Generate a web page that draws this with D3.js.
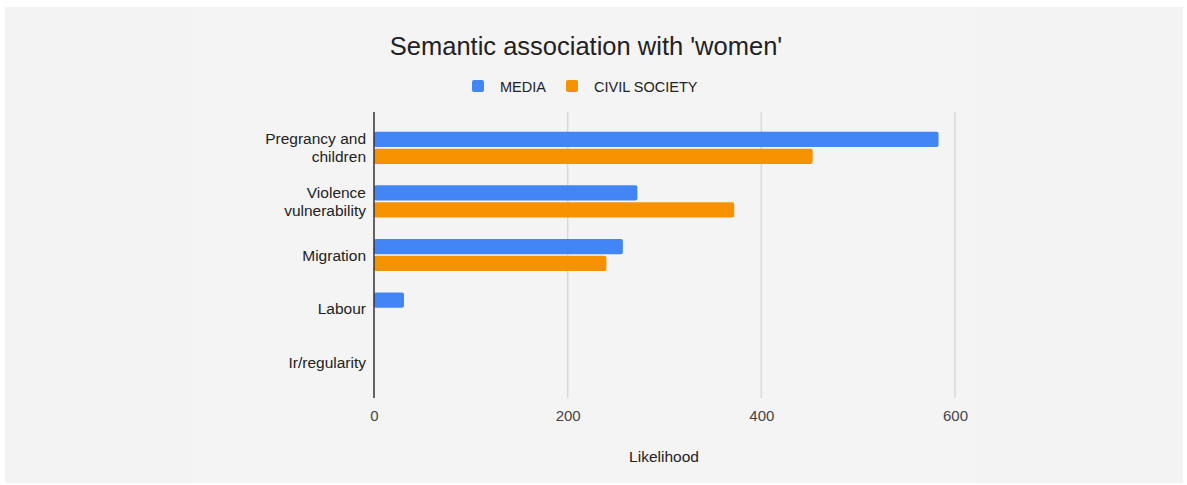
<!DOCTYPE html>
<html><head><meta charset="utf-8">
<script src="https://cdn.jsdelivr.net/npm/d3@7"></script>
<style>html,body{margin:0;padding:0;background:#fff;}svg{display:block;font-family:"Liberation Sans",Arial,sans-serif;}</style>
</head><body>
<svg id="c" width="1187" height="485"></svg>
<script>
const categories = ["Pregrancy and\nchildren", "Violence\nvulnerability", "Migration", "Labour", "Ir/regularity"];
const seriesNames = ["MEDIA", "CIVIL SOCIETY"];
const mediaValues = [583, 272, 257, 31, 0];
const civilValues = [453, 372, 240, 0, 0];
const xTicks = [0, 200, 400, 600];
const colors = ["#4285f4", "#f69200"];

const svg = d3.select("#c");
svg.append("rect").attr("x",5).attr("y",7).attr("width",1178).attr("height",476).attr("fill","#f3f3f3");
svg.append("rect").attr("x",193).attr("y",7).attr("width",784).attr("height",476).attr("fill","#f4f4f4");

const x = d3.scaleLinear().domain([0,600]).range([374,955]);
const y = d3.scaleBand().domain(categories).range([121,389]).paddingInner(0.4).paddingOuter(0.2);
const sub = d3.scaleBand().domain(seriesNames).range([0,y.bandwidth()]).paddingInner(0.1);

// gridlines
svg.append("g").selectAll("line").data(xTicks.filter(d=>d>0)).join("line")
  .attr("x1",d=>x(d)).attr("x2",d=>x(d)).attr("y1",112).attr("y2",398)
  .attr("stroke","#d9d9d9").attr("stroke-width",1.5);

const rows = categories.map((c,i)=>({cat:c, vals:[mediaValues[i], civilValues[i]]}));
const g = svg.append("g");
rows.forEach(r=>{
  r.vals.forEach((v,j)=>{
    if(v<=0) return;
    g.append("rect").attr("x",x(0)).attr("y",y(r.cat)+sub(seriesNames[j]))
      .attr("width",x(v)-x(0)).attr("height",sub.bandwidth()).attr("rx",2)
      .attr("fill",colors[j]);
  });
});

// zero line
svg.append("line").attr("x1",x(0)).attr("x2",x(0)).attr("y1",112).attr("y2",398).attr("stroke","#333").attr("stroke-width",1.5);

// x axis labels
const xAxis = d3.axisBottom(x).tickValues(xTicks).tickSize(0).tickPadding(0);
const xg = svg.append("g").attr("transform","translate(0,410)").call(xAxis);
xg.select(".domain").remove();
xg.selectAll("text").attr("fill","#444").style("font-size","15px").attr("font-family","Liberation Sans, Arial, sans-serif");

// y labels
const yAxis = d3.axisLeft(y).tickSize(0).tickFormat("");
const yg = svg.append("g").attr("transform",`translate(${x(0)},0)`).call(yAxis);
yg.select(".domain").remove();
categories.forEach(c=>{
  const lines = c.split("\n");
  const cy = y(c)+y.bandwidth()/2;
  const t = svg.append("text").attr("text-anchor","end").attr("fill","#222").style("font-size","15.5px");
  lines.forEach((ln,k)=>{
    t.append("tspan").attr("x",366).attr("y",cy + (k-(lines.length-1)/2)*18 + 5.5).text(ln);
  });
});

// axis title
svg.append("text").attr("x",664).attr("y",462).attr("text-anchor","middle").attr("fill","#222").style("font-size","15.5px").text("Likelihood");

// title
svg.append("text").attr("x",586).attr("y",55).attr("text-anchor","middle").attr("fill","#222").style("font-size","25.5px").text("Semantic association with 'women'");

// legend
const legX = [472, 566];
seriesNames.forEach((s,i)=>{
  svg.append("rect").attr("x",legX[i]).attr("y",80).attr("width",12).attr("height",12).attr("rx",2).attr("fill",colors[i]);
  svg.append("text").attr("x",legX[i]+28).attr("y",92).attr("fill","#222").style("font-size","14.5px").text(s);
});
</script>
</body></html>
